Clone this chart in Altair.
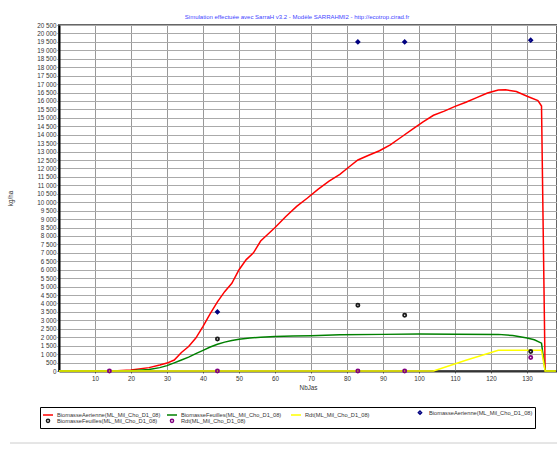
import altair as alt
import pandas as pd

TITLE = "Simulation effectuée avec SarraH v3.2 - Modèle SARRAHMI2 - http://ecotrop.cirad.fr"
X_TITLE = "NbJas"
Y_TITLE = "kg/ha"

NAMES = [
    "BiomasseAerienne(ML_Mil_Cho_D1_08)",
    "BiomasseFeuilles(ML_Mil_Cho_D1_08)",
    "Rdt(ML_Mil_Cho_D1_08)",
    "BiomasseAerienne(ML_Mil_Cho_D1_08)",
    "BiomasseFeuilles(ML_Mil_Cho_D1_08)",
    "Rdt(ML_Mil_Cho_D1_08)",
]
KEYS = [f"{i}|{n}" for i, n in enumerate(NAMES)]
COLORS = ["#ff0000", "#008000", "#ffff00", "#000080", "#1a1a1a", "#800080"]
SHAPES = ["stroke", "stroke", "stroke", "diamond", "circle", "circle"]
SIZES = [100, 100, 100, 10, 10, 10]

# simulated series
aer_days = [0, 15, 20, 25, 28, 30, 32, 34, 36, 38, 40, 42, 44, 46, 48, 50, 52, 54, 56, 58,
            60, 63, 66, 69, 72, 75, 78, 80, 83, 86, 89, 92, 95, 98, 101, 104, 107, 110,
            113, 116, 119, 122, 124, 127, 130, 133, 134, 135, 138]
aer_vals = [0, 0, 60, 200, 350, 470, 650, 1100, 1450, 1950, 2650, 3400, 4100, 4700, 5200,
            6000, 6600, 7000, 7700, 8100, 8500, 9150, 9750, 10250, 10780, 11250, 11650,
            12000, 12500, 12780, 13050, 13400, 13850, 14300, 14750, 15150, 15400, 15680,
            15920, 16200, 16470, 16650, 16660, 16560, 16280, 16020, 15700, 0, 0]

feu_days = [0, 20, 25, 28, 30, 32, 34, 36, 38, 40, 42, 44, 46, 48, 50, 53, 56, 60, 65, 70,
            78, 90, 100, 110, 122, 126, 130, 132, 134, 135, 138]
feu_vals = [0, 20, 90, 200, 320, 480, 650, 820, 1030, 1220, 1420, 1580, 1710, 1810, 1880,
            1950, 2000, 2040, 2070, 2090, 2150, 2170, 2190, 2180, 2170, 2100, 1960, 1850,
            1650, 0, 0]

rdt_days = [0, 104, 113, 122, 134, 135, 138]
rdt_vals = [0, 0, 640, 1230, 1230, 0, 0]

# observations
obs_aer_days = [44, 83, 96, 131]
obs_aer_vals = [3500, 19500, 19500, 19600]
obs_feu_days = [44, 83, 96, 131]
obs_feu_vals = [1900, 3900, 3300, 1150]
obs_rdt_days = [14, 44, 83, 96, 131]
obs_rdt_vals = [0, 0, 0, 0, 800]

X_TICKS = list(range(10, 140, 10))
Y_TICKS = list(range(0, 20501, 500))

rows = []
for k, ds, vs in [(KEYS[0], aer_days, aer_vals), (KEYS[1], feu_days, feu_vals), (KEYS[2], rdt_days, rdt_vals)]:
    for d, v in zip(ds, vs):
        rows.append({"day": d, "value": v, "key": k})
df_lines = pd.DataFrame(rows)

prow = []
for k, ds, vs in [(KEYS[3], obs_aer_days, obs_aer_vals), (KEYS[4], obs_feu_days, obs_feu_vals), (KEYS[5], obs_rdt_days, obs_rdt_vals)]:
    for d, v in zip(ds, vs):
        prow.append({"day": d, "value": v, "key": k})
df_pts = pd.DataFrame(prow)

FONT = "Liberation Sans"
LEG = dict(
    title=None, orient="none", legendX=-19, legendY=382, columns=4, direction="horizontal",
    gridAlign="all", labelExpr="slice(datum.label, 2)", labelFontSize=5.7, labelFont=FONT,
    labelColor="#333333", symbolStrokeWidth=1.5, padding=2, rowPadding=-3, columnPadding=3,
    strokeColor="#000000", fillColor="#ffffff", labelOffset=3, labelLimit=300,
)

xenc = alt.X("day:Q", scale=alt.Scale(domain=[0, 138.3], nice=False, zero=False),
             axis=alt.Axis(values=X_TICKS, title=X_TITLE, labelFontSize=6.3, labelFont=FONT,
                           labelColor="#333333", titleFontSize=6.3, titleFont=FONT,
                           titleFontWeight="normal", titleColor="#333333", titlePadding=3,
                           gridColor="#999999", gridWidth=1, domainColor="#333333",
                           domainWidth=2, tickColor="#666666", tickSize=2, labelPadding=2))
yenc = alt.Y("value:Q", scale=alt.Scale(domain=[0, 20500], nice=False),
             axis=alt.Axis(values=Y_TICKS, title=Y_TITLE,
                           labelExpr="replace(format(datum.value, ','), ',', ' ')",
                           labelFontSize=6.3, labelFont=FONT, labelColor="#333333",
                           titleFontSize=6.3, titleFont=FONT, titleFontWeight="normal",
                           titleColor="#333333", titleX=-46, titleY=173, titleAngle=-90,
                           gridColor="#aaaaaa", gridWidth=1, domainColor="#000000",
                           domainWidth=2, tickColor="#666666", tickSize=2, labelPadding=1))

color_scale = alt.Scale(domain=KEYS, range=COLORS)

lines = alt.Chart(df_lines).mark_line(strokeWidth=1.5).encode(
    x=xenc, y=yenc,
    color=alt.Color("key:N", scale=color_scale, legend=alt.Legend(**LEG)),
)

points = alt.Chart(df_pts).mark_point(filled=False, strokeWidth=1.8, opacity=1).encode(
    x=xenc, y=yenc,
    color=alt.Color("key:N", scale=color_scale, legend=alt.Legend(**LEG)),
    shape=alt.Shape("key:N", scale=alt.Scale(domain=KEYS, range=SHAPES), legend=alt.Legend(**LEG)),
    size=alt.Size("key:N", scale=alt.Scale(type="ordinal", domain=KEYS, range=SIZES),
                  legend=alt.Legend(**LEG)),
)

sep = alt.Chart(pd.DataFrame({"a": [0]})).mark_rule(color="#cccccc", strokeWidth=1).encode(
    x=alt.value(-49), x2=alt.value(498), y=alt.value(418)
)

chart = alt.layer(lines, points, sep).properties(
    width=498, height=346,
    padding={"left": 59, "top": 25, "right": 0, "bottom": 79},
    autosize=alt.AutoSizeParams(type="none"),
    title=alt.TitleParams(TITLE, fontSize=6, color="#4444ff", fontWeight="normal",
                          offset=2, dx=-11, font=FONT),
).configure_view(stroke="#666666", strokeWidth=2)

chart.save("out.html", embed_options={"renderer": "svg", "actions": False})
